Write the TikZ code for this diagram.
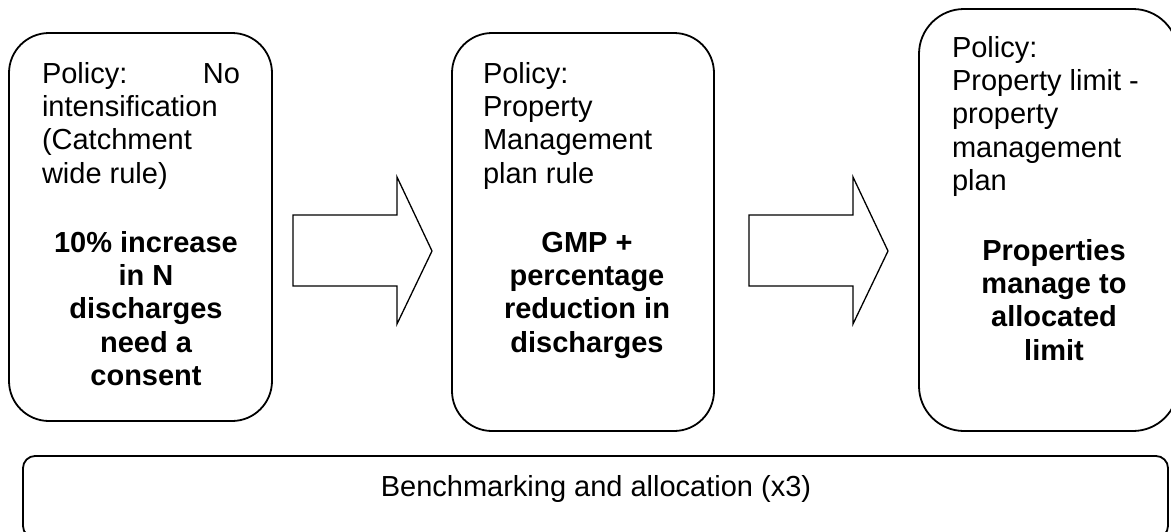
\documentclass[tikz,border=0pt]{standalone}
\usepackage{fontspec}
\setmainfont{Liberation Sans}
\begin{document}
\begin{tikzpicture}[x=1pt,y=-1pt,
  box/.style={draw, line width=1.8pt, rounded corners=#1, inner sep=0pt, outer sep=0pt, anchor=north west},
  box/.default=40pt,
  blockarrow/.style={draw, line width=1.3pt, line join=miter},
  plaintext/.style={font=\fontsize{29}{33.4}\selectfont, inner sep=0pt, outer sep=0pt},
  boldtext/.style={font=\fontsize{29}{33.4}\selectfont\bfseries, inner sep=0pt, outer sep=0pt, anchor=base},
]
\useasboundingbox (0,0) rectangle (1171,531);

% boxes
\node[box, minimum width=263pt, minimum height=388pt] (b1) at (9,33) {};
\node[box, minimum width=262pt, minimum height=398pt] (b2) at (452,33) {};
\node[box=45pt, minimum width=259pt, minimum height=422pt] (b3) at (919,9) {};
\node[box=12pt, minimum width=1145pt, minimum height=82pt] (b4) at (23,456) {};

% box 1 text
\node[plaintext, anchor=base west] (p1) at (42,83)
  {\begin{tabular}[t]{@{}l@{}}\hbox to 198pt{Policy:\hfill No}\\ intensification\\ (Catchment\\ wide rule)\end{tabular}};
\node[boldtext] (g1) at (146,252)
  {\begin{tabular}[t]{@{}c@{}}10\% increase\\ in N\\ discharges\\ need a\\ consent\end{tabular}};

% box 2 text
\node[plaintext, anchor=base west] (p2) at (483,83)
  {\begin{tabular}[t]{@{}l@{}}Policy:\\ Property\\ Management\\ plan rule\end{tabular}};
\node[boldtext] (g2) at (587,252)
  {\begin{tabular}[t]{@{}c@{}}GMP +\\ percentage\\ reduction in\\ discharges\end{tabular}};

% box 3 text
\node[plaintext, anchor=base west] (p3) at (952,57)
  {\begin{tabular}[t]{@{}l@{}}Policy:\\ Property limit -\\ property\\ management\\ plan\end{tabular}};
\node[boldtext] (g3) at (1054,260)
  {\begin{tabular}[t]{@{}c@{}}Properties\\ manage to\\ allocated\\ limit\end{tabular}};

% bottom text
\node[plaintext, anchor=base] (t4) at (596,496) {Benchmarking and allocation (x3)};

% block arrows
\draw[blockarrow] (293,215) -- (397,215) -- (397,177) -- (432,251) -- (397,324) -- (397,286) -- (293,286) -- cycle;
\draw[blockarrow] (749,215) -- (853,215) -- (853,177) -- (888,251) -- (853,324) -- (853,286) -- (749,286) -- cycle;
\end{tikzpicture}
\end{document}
